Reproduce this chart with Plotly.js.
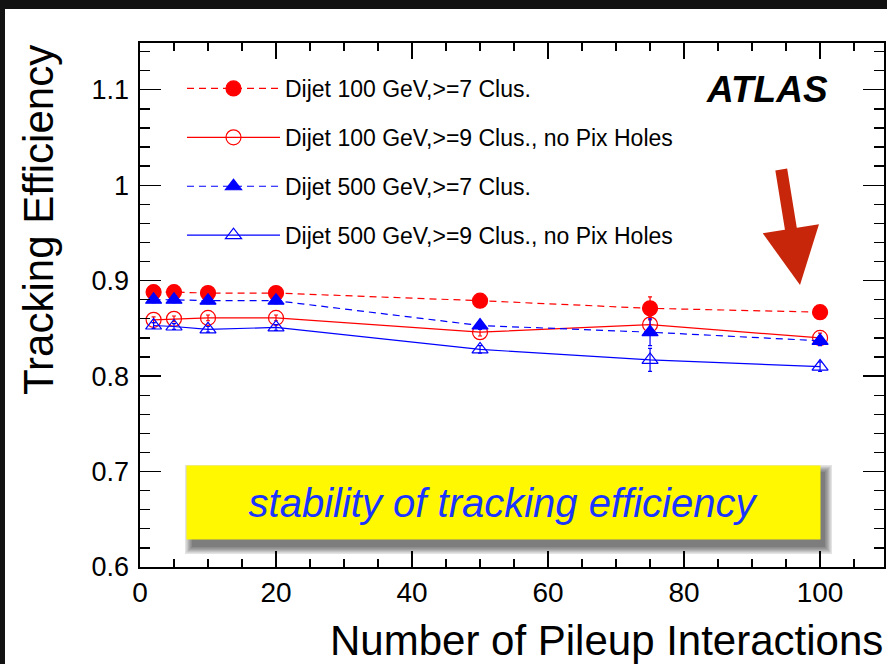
<!DOCTYPE html>
<html><head><meta charset="utf-8">
<script src="https://cdn.plot.ly/plotly-3.0.1.min.js"></script>
<style>
html,body{margin:0;padding:0;background:#121212;width:887px;height:664px;overflow:hidden;}
#chart{position:absolute;left:5px;top:9px;width:882px;height:655px;background:#fff;}
</style></head><body><div id="chart"></div>
<script>
// ---- data ----
const pileup = [2, 5, 10, 20, 50, 75, 100];
const eff100_7 = [0.888, 0.888, 0.887, 0.887, 0.879, 0.871, 0.867];
const err100_7 = [0.003, 0.003, 0.003, 0.003, 0.004, 0.012, 0.005];
const eff100_9 = [0.859, 0.860, 0.861, 0.861, 0.846, 0.854, 0.840];
const err100_9 = [0.003, 0.003, 0.003, 0.003, 0.004, 0.008, 0.005];
const eff500_7 = [0.880, 0.880, 0.879, 0.879, 0.853, 0.846, 0.837];
const err500_7 = [0.003, 0.003, 0.003, 0.003, 0.004, 0.014, 0.005];
const eff500_9 = [0.853, 0.852, 0.849, 0.851, 0.828, 0.817, 0.810];
const err500_9 = [0.003, 0.003, 0.003, 0.003, 0.004, 0.012, 0.005];
const seriesNames = [
  'Dijet 100 GeV,>=7 Clus.',
  'Dijet 100 GeV,>=9 Clus., no Pix Holes',
  'Dijet 500 GeV,>=7 Clus.',
  'Dijet 500 GeV,>=9 Clus., no Pix Holes'
];
const xTickVals = [0, 20, 40, 60, 80, 100];
const xTickText = ['0', '20', '40', '60', '80', '100'];
const yTickVals = [0.6, 0.7, 0.8, 0.9, 1.0, 1.1];
const yTickText = ['0.6', '0.7', '0.8', '0.9', '1', '1.1'];
const xTitle = 'Number of Pileup Interactions';
const yTitle = 'Tracking Efficiency';
const boxText = 'stability of tracking efficiency';
const atlasText = 'ATLAS';

// ---- geometry ----
const W = 882, H = 655, ML = 135, MR = 3, MT = 34, MB = 97;
const PW = W - ML - MR, PH = H - MT - MB;
const fx = px => (px - ML) / PW;
const fy = py => (H - MB - py) / PH;
const FONT = '"Liberation Sans", Arial, Helvetica, sans-serif';
const RED = '#ff0000', BLUE = '#0000ff';

function mk(y, err, name, color, symbol, dash, grp) {
  return {
    x: pileup, y: y, name: name, type: 'scatter', mode: 'lines+markers',
    legendgroup: grp,
    line: {color: color, width: 1.2, dash: dash},
    marker: {symbol: symbol, size: symbol.indexOf('triangle') === 0 ? 14 : 15, color: color,
             line: {color: color, width: 1.2}},
    error_y: {type: 'data', array: err, visible: true, color: color, thickness: 1.2, width: 2}
  };
}
const data = [
  mk(eff100_7, err100_7, seriesNames[0], RED, 'circle', '7px,5px', 'a'),
  mk(eff100_9, err100_9, seriesNames[1], RED, 'circle-open', 'solid', 'b'),
  mk(eff500_7, err500_7, seriesNames[2], BLUE, 'triangle-up', '7px,5px', 'c'),
  mk(eff500_9, err500_9, seriesNames[3], BLUE, 'triangle-up-open', 'solid', 'd')
];

// shadow of the yellow box (soft, layered)
const bx0 = 182, bx1 = 815, by0 = 457, by1 = 530;
const shapes = [];
for (let k = 0; k < 6; k++) {
  const g = (5 - k) * 1.4;
  shapes.push({type: 'rect', xref: 'paper', yref: 'paper', layer: 'above',
    x0: fx(bx0 + 5 - g), x1: fx(bx1 + 5 + g), y0: fy(by1 + 8 + g), y1: fy(by0 + 6 - g),
    line: {width: 0}, fillcolor: 'rgba(0,0,0,0.11)'});
}

const layout = {
  width: W, height: H,
  margin: {l: ML, r: MR, t: MT, b: MB, pad: 0},
  paper_bgcolor: '#ffffff', plot_bgcolor: '#ffffff',
  font: {family: FONT, color: '#000'},
  showlegend: true,
  legend: {x: fx(177), xanchor: 'left', y: fy(58), yanchor: 'top',
    font: {family: FONT, size: 23, color: '#000'}, itemwidth: 93, tracegroupgap: 16,
    bgcolor: 'rgba(0,0,0,0)', borderwidth: 0, valign: 'middle'},
  xaxis: {range: [0, 109.4], tickmode: 'array', tickvals: xTickVals, ticktext: xTickText,
    ticks: 'inside', ticklen: 16, tickwidth: 1.3, tickcolor: '#000',
    minor: {dtick: 5, tick0: 0, ticks: 'inside', ticklen: 8, tickwidth: 1.3, tickcolor: '#000', showgrid: false},
    showline: true, linecolor: '#000', linewidth: 1.6, mirror: 'ticks',
    showgrid: false, zeroline: false, tickfont: {family: FONT, size: 28, color: '#000'}},
  yaxis: {range: [0.6, 1.149], tickmode: 'array', tickvals: yTickVals, ticktext: yTickText,
    ticks: 'inside', ticklen: 21, tickwidth: 1.3, tickcolor: '#000', ticklabelstandoff: 4,
    minor: {dtick: 0.02, tick0: 0.6, ticks: 'inside', ticklen: 10, tickwidth: 1.3, tickcolor: '#000', showgrid: false},
    showline: true, linecolor: '#000', linewidth: 1.6, mirror: 'ticks',
    showgrid: false, zeroline: false, tickfont: {family: FONT, size: 27, color: '#000'}},
  shapes: shapes,
  annotations: [
    {xref: 'paper', yref: 'paper', x: fx(880), y: fy(631), xanchor: 'right', yanchor: 'middle',
     text: xTitle, showarrow: false, font: {family: FONT, size: 42, color: '#000'}},
    {xref: 'paper', yref: 'paper', x: fx(33), y: fy(211), xanchor: 'center', yanchor: 'middle',
     textangle: -90, text: yTitle, showarrow: false, font: {family: FONT, size: 42, color: '#000'}},
    {xref: 'paper', yref: 'paper', x: fx(762), y: fy(81), xanchor: 'center', yanchor: 'middle',
     text: '<b><i>' + atlasText + '</i></b>', showarrow: false, font: {family: FONT, size: 37, color: '#000'}},
    {xref: 'paper', yref: 'paper', x: fx((bx0 + bx1) / 2), y: fy((by0 + by1) / 2), xanchor: 'center', yanchor: 'middle',
     text: '<i>' + boxText + '</i>', showarrow: false, bgcolor: '#fff800', borderpad: 0,
     width: bx1 - bx0, height: by1 - by0, font: {family: FONT, size: 40, color: '#1a35ff'}},
    {xref: 'paper', yref: 'paper', x: fx(795), y: fy(276), text: '', showarrow: true,
     axref: 'pixel', ayref: 'pixel', ax: -19, ay: -117,
     arrowhead: 2, arrowsize: 0.95, arrowwidth: 12, arrowcolor: '#c8260a', standoff: 0}
  ]
};

Plotly.newPlot('chart', data, layout, {displayModeBar: false, staticPlot: true});
</script></body></html>
